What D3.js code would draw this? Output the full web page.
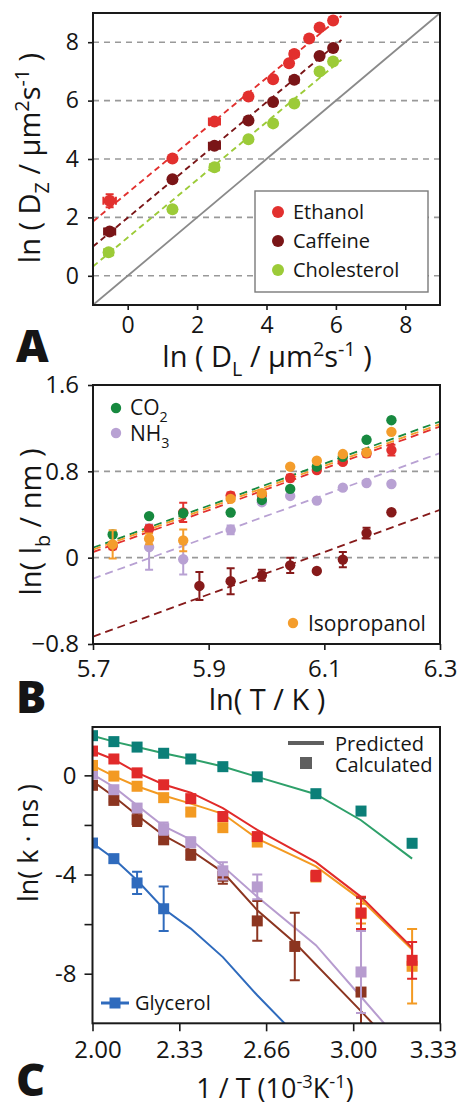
<!DOCTYPE html>
<html lang="en">
<head>
<meta charset="UTF-8">
<title>Diffusion / bond length / rate panels</title>
<script src="https://d3js.org/d3.v7.min.js"></script>
<style>
  body { margin: 0; background: #fff; }
  svg text { font-family: "Open Sans", "Noto Sans", sans-serif; fill: #151515; }
</style>
</head>
<body>
<script>
// ---------- Panel A data ----------
const aTicks = [0, 2, 4, 6, 8];
const aSeries = ['Ethanol', 'Caffeine', 'Cholesterol'];
const ethanolX = [-0.52, 1.29, 2.5, 3.48, 4.19, 4.65, 4.8, 5.23, 5.53, 5.92];
const ethanolY = [2.57, 4.02, 5.28, 6.14, 6.73, 7.28, 7.6, 8.13, 8.5, 8.74];
const ethanolXErr = [0.18, 0, 0.16, 0, 0, 0, 0.12, 0, 0, 0];
const ethanolYErr = [0.22, 0, 0, 0, 0, 0, 0, 0, 0, 0];
const caffeineX = [-0.52, 1.29, 2.5, 3.48, 4.19, 4.8, 5.53, 5.92];
const caffeineY = [1.52, 3.31, 4.45, 5.32, 5.95, 6.71, 7.53, 7.8];
const caffeineXErr = [0.16, 0, 0.16, 0, 0, 0.12, 0, 0];
const cholesterolX = [-0.55, 1.29, 2.5, 3.48, 4.19, 4.8, 5.53, 5.92];
const cholesterolY = [0.81, 2.28, 3.72, 4.68, 5.22, 5.9, 7.0, 7.34];
const cholesterolXErr = [0.13, 0, 0.13, 0, 0, 0, 0, 0];
const ethanolFit = [[-1, 1.86], [6.16, 8.9]];
const caffeineFit = [[-1, 1.0], [6.16, 8.08]];
const cholesterolFit = [[-1, 0.32], [6.16, 7.4]];
const identityLine = [[-1, -1], [9, 9]];

// ---------- Panel B data ----------
const bXTicks = [5.7, 5.9, 6.1, 6.3];
const bYTicks = [-0.8, 0, 0.8, 1.6];
const bGrid = [0, 0.8];
const lnT = [5.734, 5.797, 5.856, 5.938, 5.992, 6.041, 6.087, 6.132, 6.173, 6.216];
const co2Lb = [0.215, 0.385, 0.412, 0.418, 0.535, 0.637, 0.843, 0.935, 1.092, 1.274];
const redLb = [0.108, 0.268, 0.42, 0.575, 0.58, 0.738, 0.812, 0.889, 0.966, 0.997];
const redLbErr = [0.03, 0.03, 0.09, 0.03, 0.02, 0.03, 0.02, 0.02, 0.03, 0.05];
const isoLb = [0.123, 0.175, 0.16, 0.545, 0.597, 0.843, 0.898, 0.96, 0.975, 1.166];
const isoLbErr = [0.13, 0.05, 0.1, 0, 0, 0, 0, 0, 0, 0];
const nh3LnT = [5.797, 5.856, 5.938, 5.992, 6.041, 6.087, 6.132, 6.173, 6.216];
const nh3Lb = [0.098, -0.015, 0.258, 0.514, 0.572, 0.529, 0.649, 0.692, 0.683];
const nh3LbErr = [0.21, 0.14, 0.04, 0.02, 0, 0, 0, 0, 0];
const darkLnT = [5.884, 5.938, 5.992, 6.041, 6.087, 6.132, 6.173, 6.216];
const darkLb = [-0.262, -0.218, -0.163, -0.071, -0.123, -0.018, 0.228, 0.421];
const darkLbErr = [0.13, 0.12, 0.05, 0.07, 0, 0.07, 0.05, 0];
const co2Fit = [[5.7, 0.092], [6.3, 1.262]];
const isoFit = [[5.7, 0.074], [6.3, 1.237]];
const redFit = [[5.7, 0.052], [6.3, 1.215]];
const nh3Fit = [[5.7, -0.194], [6.3, 0.969]];
const darkFit = [[5.7, -0.732], [6.3, 0.443]];

// ---------- Panel C data ----------
const cXTicks = [2.0, 2.333, 2.666, 3.0, 3.333];
const cXLabels = ['2.00', '2.33', '2.66', '3.00', '3.33'];
const cYTicks = [-8, -6, -4, -2, 0];
const cYLabels = ['-8', '', '-4', '', '0'];
const invT = [2.0, 2.082, 2.171, 2.273, 2.377, 2.5, 2.632, 2.857, 3.03, 3.226];
const tealCalc = [1.6, 1.36, 1.14, 0.89, 0.66, 0.35, -0.06, -0.74, -1.44, -2.74];
const tealPred = [1.6, 1.36, 1.14, 0.89, 0.66, 0.36, -0.06, -0.76, -1.81, -3.36];
const redCalc = [0.98, 0.66, 0.1, -0.38, -0.94, -1.66, -2.47, -4.05, -5.55, -7.46];
const redCalcErr = [0, 0, 0, 0, 0, 0, 0.1, 0.2, 0.65, 0.74];
const redPred = [0.98, 0.64, 0.11, -0.37, -0.7, -1.32, -2.2, -3.5, -4.9, -6.95];
const orangeCalc = [0.4, -0.03, -0.44, -0.9, -1.48, -2.11, -2.69, -4.1, -5.58, -7.7];
const orangeCalcErr = [0, 0, 0, 0, 0.1, 0.1, 0, 0.15, 0.4, 1.5];
const orangePred = [0.4, -0.03, -0.44, -0.81, -1.14, -1.55, -2.55, -3.67, -5.01, -7.03];
const lilacX = [2.0, 2.082, 2.171, 2.273, 2.377, 2.5, 2.632, 3.03];
const lilacCalc = [0.05, -0.58, -1.32, -2.15, -2.7, -3.85, -4.5, -7.93];
const lilacCalcErr = [0, 0.05, 0.15, 0.25, 0.2, 0.35, 0.5, 1.65];
const lilacPred = [0.05, -0.47, -1.21, -2.05, -2.59, -3.67, -4.9, -6.85, -8.93, -11.3];
const brownX = [2.0, 2.082, 2.171, 2.273, 2.377, 2.5, 2.632, 2.776, 3.03];
const brownCalc = [-0.4, -1.01, -1.79, -2.6, -3.2, -4.07, -5.87, -6.9, -8.74];
const brownCalcErr = [0, 0.05, 0.25, 0.1, 0.2, 0.3, 0.8, 1.36, 3.8];
const brownPredX = [2.0, 2.082, 2.171, 2.273, 2.377, 2.5, 2.632, 2.776, 3.03, 3.226];
const brownPred = [-0.23, -0.85, -1.61, -2.42, -3.02, -3.9, -5.44, -6.75, -9.51, -11.7];
const glycerolX = [2.0, 2.082, 2.171, 2.273];
const glycerolCalc = [-2.73, -3.36, -4.34, -5.38];
const glycerolCalcErr = [0, 0.15, 0.45, 0.9];
const glycerolPredX = [2.0, 2.082, 2.171, 2.273, 2.377, 2.5, 2.632, 2.857];
const glycerolPred = [-2.73, -3.36, -4.23, -5.38, -6.18, -7.33, -8.87, -11.3];

const W = 461, H = 1105;
const svg = d3.select('body').append('svg')
  .attr('width', W).attr('height', H)
  .attr('viewBox', `0 0 ${W} ${H}`);

const zip = (xs, ys, es) => xs.map((x, i) => ({ x: x, y: ys[i], e: es ? es[i] : 0 }));

// text with sub/superscript pieces: [[text, 'n'|'sub'|'sup'], ...]
function rich(sel, parts, size) {
  let shift = 0;
  parts.forEach(([t, k]) => {
    const target = k === 'sub' ? size * 0.32 : k === 'sup' ? -size * 0.38 : 0;
    sel.append('tspan')
      .attr('dy', target - shift)
      .style('font-size', (k === 'n' ? size : size * 0.68) + 'px')
      .text(t);
    shift = target;
  });
}

function frame(g, x, y, id) {
  const [x0, x1] = x.range();
  const [y0, y1] = [y.range()[1], y.range()[0]];
  svg.append('clipPath').attr('id', id)
    .append('rect').attr('x', x0).attr('y', y0).attr('width', x1 - x0).attr('height', y1 - y0);
  return { x0, x1, y0, y1 };
}

function drawBox(g, b) {
  g.append('rect').attr('x', b.x0).attr('y', b.y0)
    .attr('width', b.x1 - b.x0).attr('height', b.y1 - b.y0)
    .attr('fill', 'none').attr('stroke', '#1a1a1a').attr('stroke-width', 2);
}

function styleAxis(ax, size) {
  ax.select('.domain').remove();
  ax.selectAll('line').attr('stroke', '#1a1a1a').attr('stroke-width', 1.6);
  ax.selectAll('text').style('font-size', size + 'px').attr('fill', '#151515');
}

const line = (x, y) => d3.line().x(d => x(d[0])).y(d => y(d[1]));

// =================== Panel A ===================
{
  const x = d3.scaleLinear().domain([-1, 9]).range([93, 440]);
  const y = d3.scaleLinear().domain([-1, 9]).range([305, 13]);
  const g = svg.append('g');
  const b = frame(g, x, y, 'clipA');

  g.selectAll(null).data(aTicks).enter().append('line')
    .attr('x1', b.x0).attr('x2', b.x1)
    .attr('y1', d => y(d)).attr('y2', d => y(d))
    .attr('stroke', '#999').attr('stroke-width', 1.6).attr('stroke-dasharray', '6,5');

  const plot = g.append('g').attr('clip-path', 'url(#clipA)');
  plot.append('path').datum(identityLine).attr('d', line(x, y))
    .attr('stroke', '#8a8a8a').attr('stroke-width', 1.8).attr('fill', 'none');

  const aData = [
    { pts: zip(cholesterolX, cholesterolY, cholesterolXErr), fit: cholesterolFit, color: '#9ccb38' },
    { pts: zip(caffeineX, caffeineY, caffeineXErr), fit: caffeineFit, color: '#7a1517' },
    { pts: zip(ethanolX, ethanolY, ethanolXErr).map((p, i) => Object.assign(p, { ye: ethanolYErr[i] })), fit: ethanolFit, color: '#e2302e' }
  ];
  aData.forEach(s => {
    plot.append('path').datum(s.fit).attr('d', line(x, y))
      .attr('stroke', s.color).attr('stroke-width', 1.9).attr('fill', 'none')
      .attr('stroke-dasharray', '6,4');
  });
  aData.forEach(s => {
    const eb = s.pts.filter(p => p.e > 0);
    plot.selectAll(null).data(eb).enter().append('path')
      .attr('d', p => {
        const xa = x(p.x - p.e), xb = x(p.x + p.e), yy = y(p.y);
        return `M${xa},${yy}H${xb}M${xa},${yy - 4}V${yy + 4}M${xb},${yy - 4}V${yy + 4}`;
      })
      .attr('stroke', s.color).attr('stroke-width', 2).attr('fill', 'none');
    plot.selectAll(null).data(s.pts.filter(p => p.ye > 0)).enter().append('path')
      .attr('d', p => {
        const ya = y(p.y - p.ye), yb = y(p.y + p.ye), xx = x(p.x);
        return `M${xx},${ya}V${yb}M${xx - 4},${ya}H${xx + 4}M${xx - 4},${yb}H${xx + 4}`;
      })
      .attr('stroke', s.color).attr('stroke-width', 2).attr('fill', 'none');
    plot.selectAll(null).data(s.pts).enter().append('circle')
      .attr('cx', p => x(p.x)).attr('cy', p => y(p.y)).attr('r', 6)
      .attr('fill', s.color);
  });

  const ax = g.append('g').attr('transform', `translate(0,${b.y1})`)
    .call(d3.axisBottom(x).tickValues(aTicks).tickSize(5).tickPadding(7).tickFormat(d3.format('d')));
  styleAxis(ax, 23);
  const ay = g.append('g').attr('transform', `translate(${b.x0},0)`)
    .call(d3.axisLeft(y).tickValues(aTicks).tickSize(5).tickPadding(9).tickFormat(d3.format('d')));
  styleAxis(ay, 23);
  drawBox(g, b);

  // legend
  const lg = g.append('g');
  lg.append('rect').attr('x', 255).attr('y', 191).attr('width', 173).attr('height', 101)
    .attr('fill', '#fff').attr('stroke', '#7a7a7a').attr('stroke-width', 1.4);
  const aColors = ['#e2302e', '#7a1517', '#9ccb38'];
  aSeries.forEach((name, i) => {
    lg.append('circle').attr('cx', 278).attr('cy', 212 + i * 29).attr('r', 6).attr('fill', aColors[i]);
    lg.append('text').attr('x', 293).attr('y', 212 + i * 29 + 7).style('font-size', '20px').text(name);
  });

  const tx = g.append('text').attr('x', 267).attr('y', 367).attr('text-anchor', 'middle');
  rich(tx, [['ln ( D', 'n'], ['L', 'sub'], [' / µm', 'n'], ['2', 'sup'], ['s', 'n'], ['-1', 'sup'], [' )', 'n']], 29);
  const ty = g.append('text').attr('transform', 'translate(40,158) rotate(-90)').attr('text-anchor', 'middle');
  rich(ty, [['ln ( D', 'n'], ['Z', 'sub'], [' / µm', 'n'], ['2', 'sup'], ['s', 'n'], ['-1', 'sup'], [' )', 'n']], 29);
  g.append('text').attr('x', 16).attr('y', 362).style('font-size', '45px').style('font-weight', 800).text('A');
}

// =================== Panel B ===================
{
  const x = d3.scaleLinear().domain([5.7, 6.3]).range([93, 440]);
  const y = d3.scaleLinear().domain([-0.8, 1.6]).range([644, 385]);
  const g = svg.append('g');
  const b = frame(g, x, y, 'clipB');

  g.selectAll(null).data(bGrid).enter().append('line')
    .attr('x1', b.x0).attr('x2', b.x1)
    .attr('y1', d => y(d)).attr('y2', d => y(d))
    .attr('stroke', '#999').attr('stroke-width', 1.6).attr('stroke-dasharray', '6,5');

  const plot = g.append('g').attr('clip-path', 'url(#clipB)');
  const bData = [
    { pts: zip(darkLnT, darkLb, darkLbErr), fit: darkFit, color: '#861a1a' },
    { pts: zip(nh3LnT, nh3Lb, nh3LbErr), fit: nh3Fit, color: '#b8a1d3' },
    { pts: zip(lnT, redLb, redLbErr), fit: redFit, color: '#e2302e' },
    { pts: zip(lnT, co2Lb), fit: co2Fit, color: '#17893f' },
    { pts: zip(lnT, isoLb, isoLbErr), fit: isoFit, color: '#f49d2c' }
  ];
  bData.forEach(s => {
    plot.append('path').datum(s.fit).attr('d', line(x, y))
      .attr('stroke', s.color).attr('stroke-width', 1.8).attr('fill', 'none')
      .attr('stroke-dasharray', '8,5');
  });
  bData.forEach(s => {
    plot.selectAll(null).data(s.pts.filter(p => p.e > 0)).enter().append('path')
      .attr('d', p => {
        const ya = y(p.y - p.e), yb = y(p.y + p.e), xx = x(p.x);
        return `M${xx},${ya}V${yb}M${xx - 4},${ya}H${xx + 4}M${xx - 4},${yb}H${xx + 4}`;
      })
      .attr('stroke', s.color).attr('stroke-width', 2).attr('fill', 'none');
    plot.selectAll(null).data(s.pts).enter().append('circle')
      .attr('cx', p => x(p.x)).attr('cy', p => y(p.y)).attr('r', 5.2)
      .attr('fill', s.color);
  });

  const ax = g.append('g').attr('transform', `translate(0,${b.y1})`)
    .call(d3.axisBottom(x).tickValues(bXTicks).tickSize(6).tickPadding(10).tickFormat(d3.format('.1f')));
  styleAxis(ax, 24);
  const ay = g.append('g').attr('transform', `translate(${b.x0},0)`)
    .call(d3.axisLeft(y).tickValues(bYTicks).tickSize(5).tickPadding(9).tickFormat(d => d === 0 ? '0' : d3.format('.1f')(d)));
  styleAxis(ay, 24);
  drawBox(g, b);

  // legend
  const lg = g.append('g');
  lg.append('circle').attr('cx', 116).attr('cy', 408).attr('r', 5.2).attr('fill', '#17893f');
  rich(lg.append('text').attr('x', 130).attr('y', 415), [['CO', 'n'], ['2', 'sub']], 21);
  lg.append('circle').attr('cx', 116).attr('cy', 433).attr('r', 5.2).attr('fill', '#b8a1d3');
  rich(lg.append('text').attr('x', 130).attr('y', 441), [['NH', 'n'], ['3', 'sub']], 21);
  lg.append('circle').attr('cx', 293).attr('cy', 623).attr('r', 5.2).attr('fill', '#f49d2c');
  lg.append('text').attr('x', 308).attr('y', 630.5).style('font-size', '21px').text('Isopropanol');

  g.append('text').attr('x', 267).attr('y', 710).attr('text-anchor', 'middle')
    .style('font-size', '29px').text('ln( T / K )');
  const ty = g.append('text').attr('transform', 'translate(41,522) rotate(-90)').attr('text-anchor', 'middle');
  rich(ty, [['ln( l', 'n'], ['b', 'sub'], [' / nm )', 'n']], 29);
  g.append('text').attr('x', 16).attr('y', 713).style('font-size', '45px').style('font-weight', 800).text('B');
}

// =================== Panel C ===================
{
  const x = d3.scaleLinear().domain([2.0, 3.333]).range([92.5, 440]);
  const y = d3.scaleLinear().domain([-10, 1.95]).range([1023.3, 727]);
  const g = svg.append('g');
  const b = frame(g, x, y, 'clipC');
  const plot = g.append('g').attr('clip-path', 'url(#clipC)');

  const cData = [
    { pts: zip(glycerolX, glycerolCalc, glycerolCalcErr), pred: d3.zip(glycerolPredX, glycerolPred), line: '#2f6bbd', fill: '#2f6bbd' },
    { pts: zip(brownX, brownCalc, brownCalcErr), pred: d3.zip(brownPredX, brownPred), line: '#8c3520', fill: '#8c3520' },
    { pts: zip(lilacX, lilacCalc, lilacCalcErr), pred: d3.zip(invT, lilacPred), line: '#b79ccf', fill: '#b79ccf' },
    { pts: zip(invT, orangeCalc, orangeCalcErr), pred: d3.zip(invT, orangePred), line: '#f39a22', fill: '#f39a22' },
    { pts: zip(invT, redCalc, redCalcErr), pred: d3.zip(invT, redPred), line: '#e12a2a', fill: '#e12a2a' },
    { pts: zip(invT, tealCalc), pred: d3.zip(invT, tealPred), line: '#2ea06a', fill: '#0b7f78' }
  ];
  cData.forEach(s => {
    plot.append('path').datum(s.pred).attr('d', line(x, y))
      .attr('stroke', s.line).attr('stroke-width', 2).attr('fill', 'none');
  });
  cData.forEach(s => {
    plot.selectAll(null).data(s.pts.filter(p => p.e > 0)).enter().append('path')
      .attr('d', p => {
        const ya = y(p.y - p.e), yb = y(p.y + p.e), xx = x(p.x);
        return `M${xx},${ya}V${yb}M${xx - 5},${ya}H${xx + 5}M${xx - 5},${yb}H${xx + 5}`;
      })
      .attr('stroke', s.line).attr('stroke-width', 2).attr('fill', 'none');
    plot.selectAll(null).data(s.pts).enter().append('rect')
      .attr('x', p => x(p.x) - 5.5).attr('y', p => y(p.y) - 5.5)
      .attr('width', 11).attr('height', 11)
      .attr('fill', s.fill);
  });

  const ax = g.append('g').attr('transform', `translate(0,${b.y1})`)
    .call(d3.axisBottom(x).tickValues(cXTicks).tickSize(8).tickPadding(10).tickFormat((d, i) => cXLabels[i]));
  styleAxis(ax, 24);
  // end labels sit slightly inward, as in the original figure
  ax.selectAll('.tick text').attr('dx', (d, i) => i === 0 ? 5 : i === cXTicks.length - 1 ? -7 : 0);
  const ay = g.append('g').attr('transform', `translate(${b.x0},0)`)
    .call(d3.axisLeft(y).tickValues(cYTicks).tickSize(8).tickPadding(8).tickFormat((d, i) => cYLabels[i]));
  styleAxis(ay, 24);
  drawBox(g, b);

  // legend
  const lg = g.append('g');
  lg.append('line').attr('x1', 288).attr('x2', 324).attr('y1', 743).attr('y2', 743)
    .attr('stroke', '#5f5f5f').attr('stroke-width', 4);
  lg.append('text').attr('x', 335).attr('y', 750.5).style('font-size', '20px').text('Predicted');
  lg.append('rect').attr('x', 300).attr('y', 757).attr('width', 12).attr('height', 12).attr('fill', '#5f5f5f');
  lg.append('text').attr('x', 335).attr('y', 771.5).style('font-size', '20px').text('Calculated');
  lg.append('line').attr('x1', 101).attr('x2', 129).attr('y1', 1003).attr('y2', 1003)
    .attr('stroke', '#2f6bbd').attr('stroke-width', 3);
  lg.append('rect').attr('x', 109.5).attr('y', 997.5).attr('width', 11).attr('height', 11).attr('fill', '#2f6bbd');
  lg.append('text').attr('x', 135).attr('y', 1010).style('font-size', '20px').text('Glycerol');

  const tx = g.append('text').attr('x', 275).attr('y', 1098).attr('text-anchor', 'middle');
  rich(tx, [['1 / T (10', 'n'], ['-3', 'sup'], ['K', 'n'], ['-1', 'sup'], [')', 'n']], 27);
  g.append('text').attr('transform', 'translate(38,843) rotate(-90)').attr('text-anchor', 'middle')
    .style('font-size', '27px').text('ln( k · ns )');
  g.append('text').attr('x', 16).attr('y', 1096).style('font-size', '45px').style('font-weight', 800).text('C');
}
</script>
</body>
</html>
